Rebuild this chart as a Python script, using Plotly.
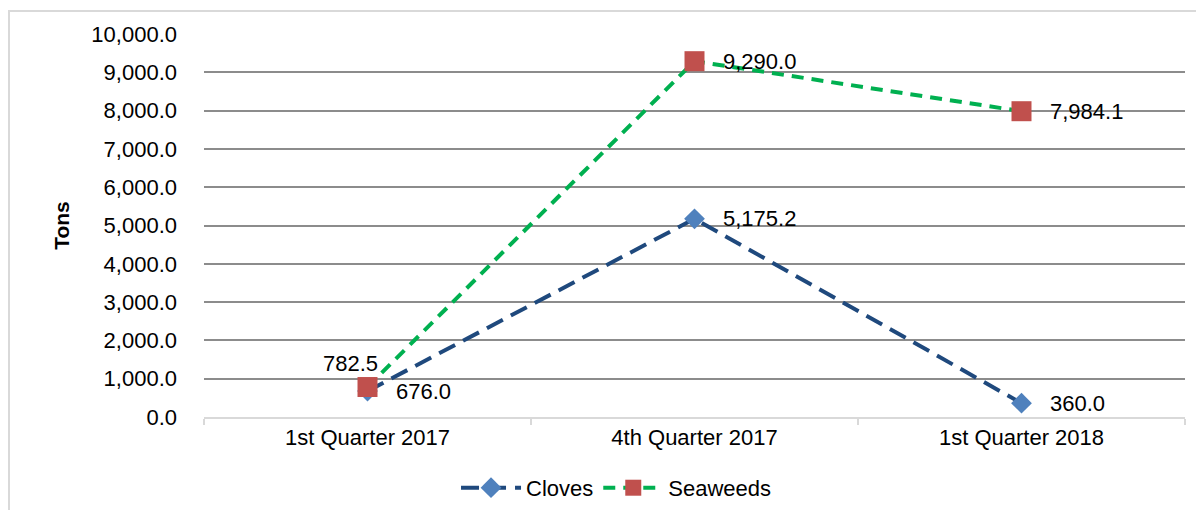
import plotly.graph_objects as go

# data
quarters = ["1st Quarter 2017", "4th Quarter 2017", "1st Quarter 2018"]
cloves = [676.0, 5175.2, 360.0]
seaweeds = [782.5, 9290.0, 7984.1]

FONT = "Liberation Sans, Arial, sans-serif"
FS = 22

fig = go.Figure()

fig.add_trace(go.Scatter(
    x=quarters, y=cloves, name="Cloves",
    mode="lines+markers",
    line=dict(color="#1F497D", width=4, dash="18px,9px"),
    marker=dict(symbol="diamond", size=16, color="#4F81BD"),
))
fig.add_trace(go.Scatter(
    x=quarters, y=seaweeds, name="Seaweeds",
    mode="lines+markers",
    line=dict(color="#00B050", width=4, dash="12px,8px"),
    marker=dict(symbol="square", size=20, color="#C0504D"),
))

# data labels (right of the point, except the first seaweeds one which sits top-left)
annotations = []
for series in (cloves, seaweeds):
    for i, (q, v) in enumerate(zip(quarters, series)):
        if series is seaweeds and i == 0:
            annotations.append(dict(x=q, y=v, text=f"{v:,.1f}", showarrow=False,
                                    xanchor="right", yanchor="middle", xshift=12, yshift=24))
        else:
            annotations.append(dict(x=q, y=v, text=f"{v:,.1f}", showarrow=False,
                                    xanchor="left", yanchor="middle", xshift=26))
for a in annotations:
    a["font"] = dict(family=FONT, size=FS, color="#000000")

fig.update_layout(
    annotations=annotations,
    width=1196, height=502,
    margin=dict(l=196, r=19, t=26, b=93),
    paper_bgcolor="white", plot_bgcolor="white",
    font=dict(family=FONT, size=FS, color="#000000"),
    showlegend=True,
    legend=dict(orientation="h", x=0.42, xanchor="center",
                yref="container", y=0.044, yanchor="middle",
                font=dict(family=FONT, size=FS), itemwidth=60, traceorder="normal"),
    xaxis=dict(
        range=[-0.5, 2.5],
        showgrid=False, zeroline=False,
        showline=True, linecolor="#D9D9D9", linewidth=2,
        ticks="outside", tickson="boundaries", ticklen=6, tickcolor="#D9D9D9", tickwidth=2,
        ticklabelstandoff=0,
        tickfont=dict(family=FONT, size=FS),
    ),
    yaxis=dict(
        range=[0, 10000], dtick=1000, tickformat=",.1f",
        showgrid=True, gridcolor="#8C8C8C", gridwidth=1.5,
        zeroline=False, showline=False,
        ticklabelstandoff=26,
        tickfont=dict(family=FONT, size=FS),
        title=dict(text="<b>Tons</b>", standoff=16, font=dict(family=FONT, size=21)),
    ),
    shapes=[dict(type="rect", xref="paper", yref="paper",
                 x0=-0.1988, y0=-0.4, x1=1.1, y1=1.06,
                 line=dict(color="#D9D9D9", width=2), fillcolor="rgba(0,0,0,0)")],
)

fig.write_html("out.html")
